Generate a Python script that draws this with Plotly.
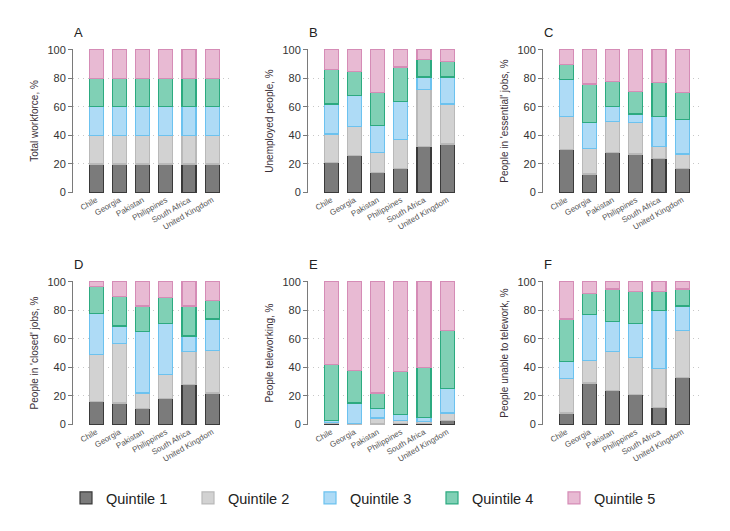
import plotly.graph_objects as go

countries = ["Chile", "Georgia", "Pakistan", "Philippines", "South Africa", "United Kingdom"]
quintiles = ["Quintile 1", "Quintile 2", "Quintile 3", "Quintile 4", "Quintile 5"]
panel_letters = ["A", "B", "C", "D", "E", "F"]
panel_titles = ["Total workforce, %", "Unemployed people, %", "People in 'essential' jobs, %",
                "People in 'closed' jobs, %", "People teleworking, %", "People unable to telework, %"]

# Share of each quintile (segment sizes, %), per panel
A_q1 = [20, 20, 20, 20, 20, 20]
A_q2 = [20, 20, 20, 20, 20, 20]
A_q3 = [20, 20, 20, 20, 20, 20]
A_q4 = [20, 20, 20, 20, 20, 20]
A_q5 = [20, 20, 20, 20, 20, 20]

B_q1 = [21, 26, 14, 17, 32, 34]
B_q2 = [20, 20, 14, 20, 40, 28]
B_q3 = [21, 22, 19, 27, 9, 19]
B_q4 = [24, 17, 23, 24, 12, 11]
B_q5 = [14, 15, 30, 12, 7, 8]

C_q1 = [30, 13, 28, 27, 24, 17]
C_q2 = [23, 18, 22, 22, 8, 10]
C_q3 = [26, 18, 10, 6, 21, 24]
C_q4 = [11, 27, 18, 16, 24, 19]
C_q5 = [10, 24, 22, 29, 23, 30]

D_q1 = [16, 15, 11, 18, 28, 22]
D_q2 = [33, 42, 11, 17, 23, 30]
D_q3 = [29, 12, 43, 36, 11, 22]
D_q4 = [19, 21, 18, 18, 21, 13]
D_q5 = [3, 10, 17, 11, 17, 13]

E_q1 = [0.5, 0.2, 0.3, 0.5, 0.5, 3]
E_q2 = [1, 0.5, 4.2, 2, 1.5, 5]
E_q3 = [1, 14.3, 6.5, 4.5, 3, 17]
E_q4 = [39.5, 23, 11, 30, 35, 41]
E_q5 = [58, 62, 78, 63, 60, 34]

F_q1 = [8, 29, 24, 21, 12, 33]
F_q2 = [24, 16, 27, 26, 27, 33]
F_q3 = [12, 32, 21, 24, 41, 17]
F_q4 = [30, 15, 23, 22, 13, 12]
F_q5 = [26, 8, 5, 7, 7, 5]

panels = [
    [A_q1, A_q2, A_q3, A_q4, A_q5],
    [B_q1, B_q2, B_q3, B_q4, B_q5],
    [C_q1, C_q2, C_q3, C_q4, C_q5],
    [D_q1, D_q2, D_q3, D_q4, D_q5],
    [E_q1, E_q2, E_q3, E_q4, E_q5],
    [F_q1, F_q2, F_q3, F_q4, F_q5],
]

fills = ["#7b7b7b", "#d2d2d2", "#aedbf6", "#80d0b5", "#e8bad3"]
lines = ["#3a3a3a", "#b9b9b9", "#6cc2ef", "#2caa80", "#d58cb6"]

W, H = 730, 531
OFF = 8  # page body margin
col_x = [(73 - OFF, 232 - OFF), (308 - OFF, 467 - OFF), (543 - OFF, 702 - OFF)]
row_y = [(49 - OFF, 193 - OFF), (281 - OFF, 425 - OFF)]

fig = go.Figure()
font_family = "Liberation Sans, Arial, sans-serif"

for p in range(6):
    r, c = divmod(p, 3)
    n = p + 1
    xa = "x" if n == 1 else f"x{n}"
    ya = "y" if n == 1 else f"y{n}"
    for q in range(5):
        fig.add_trace(go.Bar(
            x=countries, y=panels[p][q], name=quintiles[q],
            marker=dict(color=fills[q], line=dict(color=lines[q], width=1.2)),
            width=0.6, xaxis=xa, yaxis=ya, legendgroup=quintiles[q],
            showlegend=(p == 0),
        ))
    x0, x1 = col_x[c]
    yt, yb = row_y[r]
    xkey = "xaxis" if n == 1 else f"xaxis{n}"
    ykey = "yaxis" if n == 1 else f"yaxis{n}"
    fig.layout[xkey] = dict(
        domain=[x0 / W, x1 / W], anchor=ya, range=[-1, 5.85],
        showline=False, showgrid=False, ticks="", tickangle=-30, automargin=False,
        tickfont=dict(size=8, color="#555", family=font_family),
        categoryorder="array", categoryarray=countries, fixedrange=True,
    )
    fig.layout[ykey] = dict(
        domain=[(H - yb) / H, (H - yt) / H], anchor=xa, range=[-0.4, 100.6],
        tickvals=[0, 20, 40, 60, 80, 100], showline=True, linecolor="#7a7a7a", linewidth=1,
        ticks="outside", ticklen=4, tickcolor="#7a7a7a", automargin=False,
        showgrid=True, gridcolor="#c8c8c8", griddash="1px,4px", gridwidth=1, zeroline=False,
        tickfont=dict(size=11, color="#333", family=font_family),
        title=dict(text=panel_titles[p], font=dict(size=10, color="#3a2f38", family=font_family), standoff=6),
        fixedrange=True,
    )
    fig.add_annotation(
        text=panel_letters[p], xref="paper", yref="paper",
        x=(x0 - 1) / W, y=(H - (yt - 17)) / H, xanchor="left", yanchor="middle",
        showarrow=False, font=dict(size=13, color="#222", family=font_family),
    )

fig.update_layout(
    width=W, height=H, barmode="stack", bargap=0.4,
    plot_bgcolor="white", paper_bgcolor="white",
    margin=dict(l=0, r=0, t=0, b=0, autoexpand=False),
    font=dict(family=font_family),
    legend=dict(
        orientation="h", x=(66 - OFF) / W, xanchor="left", y=(H - (498 - OFF)) / H, yanchor="middle",
        entrywidth=77, entrywidthmode="pixels", traceorder="normal",
        font=dict(size=14.5, color="#222", family=font_family),
    ),
)

fig.write_html("out.html")
